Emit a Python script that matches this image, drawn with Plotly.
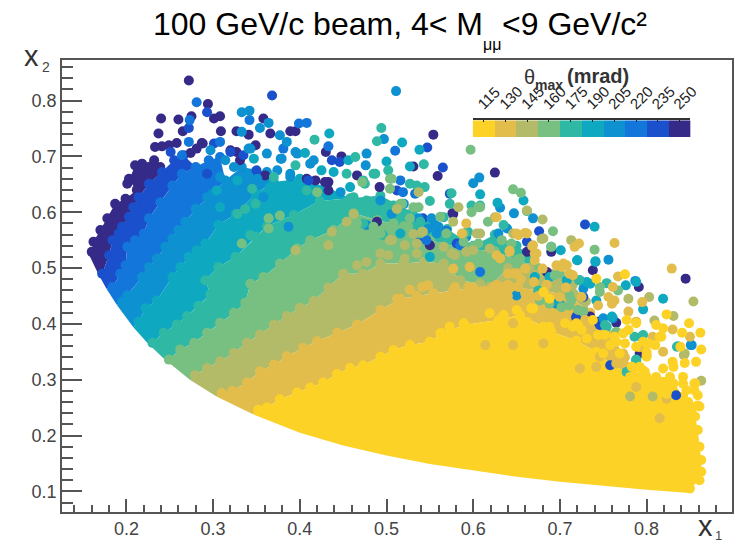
import plotly.graph_objects as go

# ---------- data ----------
thetas = [115, 130, 145, 160, 175, 190, 205, 220, 235, 250]
colors = ["#FDD226", "#E2BD4B", "#B3BB68", "#78BF82", "#2FB8A4", "#0EA9C0", "#0D91D0", "#1376DA", "#1A50CC", "#352A87"]
x_ticks = [0.2, 0.3, 0.4, 0.5, 0.6, 0.7, 0.8]
y_ticks = [0.1, 0.2, 0.3, 0.4, 0.5, 0.6, 0.7, 0.8]

# lower kinematic edge of the populated region; one knot where each band meets it, dark to light
curve_x = [.155,.168,.177,.189,.208,.224,.243,.274,.304,.346,.4,.45,.5,.55,.6,.65,.7,.75,.8,.85]
curve_y = [.53,.488,.463,.434,.394,.366,.338,.299,.27,.238,.205,.182,.164,.149,.137,.126,.117,.11,.103,.097]

# outermost points of each theta band (upper-left edge of the band)
edge_250 = [(.160,.529),(.162,.547),(.170,.568),(.178,.589),(.187,.615),(.199,.624),(.212,.640),(.203,.657),(.210,.684),(.218,.687),(.232,.693),(.239,.681)]
edge_235 = [(.172,.490),(.180,.523),(.184,.550),(.191,.562),(.195,.574),(.203,.592),(.208,.609),(.214,.627),(.226,.651),(.241,.672),(.255,.693),(.266,.702)]
edge_220 = [(.184,.466),(.193,.490),(.199,.505),(.201,.538),(.210,.550),(.220,.562),(.226,.589),(.239,.618),(.253,.648),(.264,.669),(.280,.681),(.295,.693),(.308,.699)]
edge_205 = [(.195,.440),(.201,.451),(.218,.484),(.226,.502),(.235,.517),(.245,.538),(.253,.553),(.260,.568),(.268,.583),(.280,.606),(.299,.633),(.314,.657),(.333,.681),(.362,.672)]
edge_190 = [(.214,.404),(.222,.428),(.235,.442),(.253,.484),(.262,.502),(.272,.520),(.281,.532),(.291,.544),(.306,.577),(.326,.597),(.349,.633),(.370,.654),(.400,.660),(.431,.645)]
edge_175 = [(.230,.366),(.243,.384),(.258,.399),(.270,.414),(.283,.432),(.297,.453),(.291,.478),(.306,.502),(.326,.520),(.349,.556),(.362,.575),(.393,.595),(.423,.620),(.458,.625),(.493,.630),(.530,.600),(.570,.570),(.600,.540),(.625,.560),(.650,.540),(.670,.520)]
edge_160 = [(.249,.336),(.262,.354),(.278,.366),(.293,.384),(.308,.402),(.324,.420),(.337,.438),(.343,.472),(.358,.484),(.377,.508),(.397,.535),(.412,.550),(.439,.568),(.462,.598),(.489,.586),(.520,.575),(.550,.550),(.590,.535),(.625,.530),(.650,.515),(.675,.500),(.700,.490)]
edge_145 = [(.279,.308),(.293,.321),(.308,.333),(.324,.348),(.339,.366),(.354,.381),(.370,.399),(.385,.414),(.400,.429),(.416,.441),(.433,.465),(.450,.490),(.473,.490),(.493,.508),(.519,.508),(.543,.511),(.566,.508),(.585,.478),(.608,.472),(.619,.466),(.640,.500),(.665,.500),(.690,.490),(.715,.470),(.730,.440)]
edge_130 = [(.310,.276),(.322,.280),(.339,.295),(.354,.315),(.370,.327),(.385,.342),(.404,.357),(.420,.369),(.443,.384),(.466,.399),(.493,.425),(.516,.445),(.535,.450),(.554,.455),(.577,.460),(.600,.465),(.627,.470),(.646,.465),(.681,.460),(.711,.450),(.735,.420),(.760,.380),(.775,.340)]
edge_115 = [(.352,.246),(.362,.250),(.377,.265),(.397,.277),(.412,.286),(.427,.295),(.443,.310),(.458,.321),(.473,.326),(.493,.341),(.508,.353),(.527,.362),(.550,.368),(.564,.383),(.590,.398),(.629,.407),(.654,.416),(.681,.395),(.690,.386),(.719,.370),(.742,.350),(.761,.325),(.792,.305),(.827,.305),(.842,.270),(.859,.254),(.856,.234),(.859,.210),(.861,.180),(.863,.156),(.863,.135),(.861,.120),(.850,.105)]

# individually visible events in the sparse fringe
dots_250 = [(.272,.836),(.294,.794),(.240,.768),(.260,.766),(.275,.772),(.301,.768),(.308,.772),(.265,.745),(.237,.741),(.309,.745),(.358,.768),(.327,.745),(.341,.739),(.366,.741),(.389,.745),(.395,.745),(.430,.708),(.448,.700),(.349,.720),(.327,.708),(.287,.724),(.281,.714),(.274,.706),(.258,.724),(.249,.720),(.241,.718),(.233,.717),(.331,.693),(.466,.666),(.433,.654),(.201,.651),(.203,.660),(.554,.739),(.559,.665),(.625,.671),(.531,.682),(.492,.645),(.489,.583),(.738,.496),(.845,.481),(.791,.466),(.685,.493),(.690,.529),(.576,.598),(.792,.347),(.765,.402),(.719,.411),(.735,.413),(.744,.404),
            (.288,.723),(.320,.711),(.429,.654),(.408,.660),(.433,.639),(.418,.657),(.360,.666),(.550,.541),(.577,.597),(.662,.529)]
dots_235 = [(.293,.779),(.368,.809),(.272,.751),(.320,.708),(.301,.723),(.251,.708),(.335,.702),(.437,.693),(.446,.690),(.350,.675),(.410,.657),(.547,.716),(.565,.680),(.676,.566),(.729,.578),(.662,.547),(.581,.544),(.512,.639),(.573,.633),(.539,.556),(.834,.272),(.727,.448),(.758,.326),
            (.293,.669),(.542,.589),(.719,.413),(.746,.398)]
dots_220 = [(.281,.797),(.273,.765),(.342,.765),(.399,.759),(.408,.760),(.381,.714),(.433,.718),(.308,.726),(.272,.726),(.264,.702),(.510,.710),(.569,.567),(.546,.550),
            (.519,.636),(.533,.633),(.585,.541),(.608,.493),(.516,.657)]
dots_205 = [(.333,.779),(.342,.782),(.364,.760),(.354,.751),(.333,.744),(.377,.738),(.385,.726),(.395,.708),(.362,.705),(.379,.696),(.341,.714),(.297,.711),(.314,.693),(.412,.687),(.477,.705),(.476,.684),(.389,.669),(.511,.817),(.497,.731),(.607,.662),(.600,.652),(.631,.608),(.647,.598),(.669,.589),(.756,.515),(.787,.477),(.560,.574),(.592,.556),(.520,.615),(.761,.410),(.750,.410),(.696,.436),(.650,.451),(.851,.362),
            (.343,.714),(.324,.681),(.308,.663),(.351,.660),(.378,.696),(.374,.675),(.397,.705),(.416,.693),(.389,.663),(.320,.636),(.293,.627),(.358,.627),(.387,.574),(.447,.636),(.558,.562),(.548,.571),(.556,.577),(.629,.562),(.639,.571),(.477,.577),(.506,.597),(.493,.621),(.537,.589),(.552,.589),(.727,.463),(.720,.514),(.741,.511),(.852,.362)]
dots_190 = [(.434,.741),(.406,.706),(.347,.696),(.456,.693),(.425,.675),(.439,.672),(.458,.645),(.518,.725),(.538,.712),(.527,.682),(.500,.691),(.608,.632),(.658,.621),(.628,.617),(.740,.574),(.701,.532),(.720,.514),(.741,.512),(.776,.469),(.731,.475),(.819,.445),(.796,.426),(.788,.335),
            (.366,.645),(.328,.657),(.304,.639),(.308,.609),(.389,.621),(.374,.621),(.537,.562),(.550,.520),(.516,.562),(.723,.478),(.735,.472),(.788,.475),(.760,.413),(.742,.442),(.700,.436),(.671,.484),(.688,.484),(.708,.478)]
dots_175 = [(.417,.730),(.395,.684),(.464,.699),(.454,.669),(.370,.663),(.473,.657),(.494,.751),(.489,.727),(.543,.686),(.535,.648),(.544,.645),(.575,.634),(.598,.612),(.662,.602),(.690,.538),(.754,.473),(.722,.478),(.550,.620),(.539,.583),(.635,.577),(.487,.669),(.786,.377),(.794,.377),(.754,.395),(.835,.359),(.777,.314),
            (.345,.642),(.337,.606),(.349,.615),(.328,.597),(.408,.639),(.443,.612),(.424,.606),(.400,.591),(.462,.627),(.343,.559),(.485,.669),(.475,.651),(.502,.675),(.527,.651),(.477,.621),(.487,.603),(.508,.612),(.573,.615),(.566,.591),(.594,.565),(.608,.612),(.473,.580),(.496,.559),(.675,.460),(.752,.398),(.796,.380),(.788,.336),(.836,.360)]
dots_160 = [(.597,.712),(.646,.641),(.655,.635),(.692,.566),(.740,.533),(.694,.487),(.562,.592),(.608,.609),(.504,.660),(.516,.615),(.531,.609),(.589,.562),(.633,.550),(.654,.517),(.485,.574),(.746,.457),(.711,.433),(.727,.422),
            (.364,.589),(.377,.594),(.420,.636),(.466,.580),(.475,.556),(.445,.535),(.412,.547),(.333,.544),(.364,.571),(.472,.654),(.506,.660),(.504,.642),(.518,.615),(.537,.609),(.598,.600),(.606,.609),(.477,.556),(.493,.562),(.508,.580),(.527,.589),(.525,.574),(.539,.562),(.569,.562),(.589,.547),(.617,.583),(.644,.544),(.606,.544),(.600,.538),(.562,.538),
            (.690,.538),(.713,.442),(.746,.466),(.767,.460),(.711,.451),(.688,.436),(.721,.425),(.702,.430),(.677,.442),(.765,.386)]
dots_145 = [(.680,.587),(.679,.552),(.713,.550),(.583,.609),(.625,.591),(.504,.550),(.531,.561),(.577,.583),(.604,.562),(.542,.565),(.646,.562),(.854,.440),(.779,.445),(.803,.448),(.831,.414),(.809,.406),(.844,.347),(.863,.298),(.807,.270),(.781,.270),
            (.437,.565),(.454,.583),(.462,.597),(.433,.541),(.395,.532),(.466,.505),(.477,.511),(.537,.636),(.512,.606),(.662,.603),(.506,.550),(.541,.565),(.608,.562),(.521,.541),(.535,.544),(.493,.526),(.502,.523),(.521,.517),(.566,.538),(.600,.532),(.579,.523),(.535,.526),(.592,.529),(.619,.535),(.575,.526),(.681,.553),(.843,.344)]
dots_130 = [(.829,.499),(.767,.485),(.722,.544),(.717,.538),(.763,.545),(.711,.490),(.702,.502),(.708,.505),(.680,.499),(.660,.499),(.650,.490),(.640,.490),(.761,.466),(.650,.562),(.660,.563),(.668,.539),(.671,.526),(.642,.531),(.627,.591),(.592,.580),(.587,.562),(.795,.439),(.779,.422),(.763,.442),(.756,.448),(.744,.433),(.646,.401),(.830,.390),(.850,.377),(.807,.377),(.788,.404),(.800,.344),(.819,.350),(.729,.407),(.614,.362),(.646,.362),(.681,.365),(.723,.320),(.746,.341),(.788,.287),(.815,.231),(.823,.266),
            (.577,.499),(.596,.502),(.627,.523),(.642,.529),(.652,.559),(.662,.562),(.631,.517),(.646,.490),(.579,.466),(.594,.466),(.604,.451),(.623,.466),(.635,.466),(.652,.466),(.541,.466),(.527,.461),(.548,.469),(.512,.445),(.669,.541),(.673,.526),(.671,.514),(.696,.505),(.704,.508),(.715,.487),(.707,.465),(.725,.448),(.700,.448),(.760,.436),(.688,.416),(.704,.412),(.735,.389),(.754,.347),(.742,.323),(.765,.329),(.792,.358),(.773,.347),
            (.640,.470),(.655,.480),(.670,.475),(.685,.470),(.660,.455),(.675,.450),(.640,.450)]
dots_115 = [(.775,.489),(.742,.481),(.823,.417),(.849,.401),(.862,.384),(.841,.384),(.839,.359),(.863,.354),(.819,.392),(.817,.377),(.796,.368),(.779,.389),(.788,.359),(.811,.398),(.786,.320),(.796,.317),(.830,.332),(.844,.330),(.857,.332),(.856,.293),(.859,.272),(.848,.260),(.861,.252),(.681,.457),(.688,.445),(.650,.425),(.667,.428),(.635,.416),(.619,.419),(.662,.404),(.589,.401),(.573,.395),(.562,.383),(.596,.392),(.719,.401),
            (.706,.401),(.738,.407),(.669,.427),(.721,.398),(.777,.407),(.788,.401),(.765,.368),(.773,.383),(.752,.380),(.800,.341),(.810,.362),(.783,.323),(.798,.314),(.819,.293),(.842,.293),(.855,.293),
            (.831,.323),(.842,.305),(.819,.320),(.811,.305),(.800,.305),(.831,.293),(.846,.281),(.855,.281),(.823,.275),(.792,.323),(.781,.305),(.769,.347),(.758,.362),(.750,.347),(.775,.365),(.731,.374),(.715,.395),(.688,.395),(.725,.389),(.744,.380),(.763,.377),(.800,.350),(.802,.365),(.815,.377)]

# ---------- layout geometry ----------
W, H = 741, 544
L, R, T, B = 61.5, 732.3, 59.7, 512.0
def px(v): return (v - L) / (R - L)
def py(v): return (B - v) / (B - T)
GREY = "#555555"
FONT = "Liberation Sans"

edges = [edge_250, edge_235, edge_220, edge_205, edge_190, edge_175, edge_160, edge_145, edge_130, edge_115]
dots = [dots_250, dots_235, dots_220, dots_205, dots_190, dots_175, dots_160, dots_145, dots_130, dots_115]
dark_first = colors[::-1]
SIZE = 10

fig = go.Figure()
n = len(edges)
for k in range(n):
    poly = list(edges[k])
    if k < n - 1:
        keep = []
        for p in edges[k + 1]:
            keep.append(p)
            if p[0] > edges[k][-1][0]:
                break
        poly += keep[::-1]
        poly += [(curve_x[k + 1], curve_y[k + 1]), (curve_x[k], curve_y[k])]
    else:
        poly += list(zip(curve_x[k:], curve_y[k:]))[::-1]
    fig.add_trace(go.Scatter(x=[p[0] for p in poly], y=[p[1] for p in poly], mode="lines", fill="toself",
                             fillcolor=dark_first[k], line=dict(width=0),
                             hoverinfo="skip", showlegend=False))
    fig.add_trace(go.Scatter(x=[p[0] for p in edges[k]], y=[p[1] for p in edges[k]], mode="markers",
                             marker=dict(size=SIZE, color=dark_first[k], line=dict(width=0)),
                             hoverinfo="skip", showlegend=False))
for k in range(n):
    fig.add_trace(go.Scatter(x=[p[0] for p in dots[k]], y=[p[1] for p in dots[k]], mode="markers",
                             marker=dict(size=SIZE, color=dark_first[k], line=dict(width=0)),
                             hoverinfo="skip", showlegend=False))

# colour key, as a one-row heatmap on its own axes
scale = [[i / (len(colors) - 1), c] for i, c in enumerate(colors)]
fig.add_trace(go.Heatmap(x=thetas, y=[0], z=[thetas], zmin=thetas[0], zmax=thetas[-1],
                         colorscale=scale, showscale=False, xgap=0, hoverinfo="skip",
                         xaxis="x2", yaxis="y2"))

axis_common = dict(showgrid=False, zeroline=False, showline=True, linecolor=GREY, linewidth=1.5,
                   mirror=True, ticks="inside", tickcolor=GREY, tickwidth=1.5,
                   tickfont=dict(family=FONT, size=18, color="#444444"))
fig.update_layout(
    width=W, height=H, autosize=False,
    margin=dict(l=L, r=W - R, t=T, b=H - B, pad=0, autoexpand=False),
    paper_bgcolor="white", plot_bgcolor="white", showlegend=False,
    xaxis=dict(range=[0.1257, 0.8985], tickvals=x_ticks, ticktext=[str(v) for v in x_ticks], ticklen=13,
               minor=dict(dtick=0.02, ticklen=7, ticks="inside", tickcolor=GREY, tickwidth=1.5, showgrid=False),
               **axis_common),
    yaxis=dict(range=[0.063, 0.8727], tickvals=y_ticks, ticktext=[str(v) for v in y_ticks], ticklen=20,
               minor=dict(dtick=0.02, ticklen=11, ticks="inside", tickcolor=GREY, tickwidth=1.5, showgrid=False),
               **axis_common),
    xaxis2=dict(domain=[px(472.7), px(690.7)], anchor="y2", side="top", range=[107.5, 257.5],
                tickvals=thetas, ticktext=[str(v) for v in thetas], tickangle=-45, ticklabelshift=-5,
                ticks="inside", ticklen=2, tickcolor="#222222", showline=True, linecolor="#333333", linewidth=1.5,
                showgrid=False, zeroline=False, tickfont=dict(family=FONT, size=15, color="#222222")),
    yaxis2=dict(domain=[py(136.7), py(120)], anchor="x2", range=[-0.5, 0.5], showticklabels=False,
                ticks="", showgrid=False, zeroline=False, showline=False),
)

def note(text, x, y, size, color="#000000", bold=False):
    t = "<b>%s</b>" % text if bold else text
    fig.add_annotation(text=t, xref="paper", yref="paper", x=px(x), y=py(y), showarrow=False,
                       xanchor="center", yanchor="middle", borderpad=0,
                       font=dict(family=FONT, size=size, color=color))

fig.add_annotation(text="100 GeV/c beam, 4&lt; M", xref="paper", yref="paper", x=px(151.5), y=py(24),
                   xanchor="left", yanchor="middle", showarrow=False, borderpad=0,
                   font=dict(family=FONT, size=32, color="#000000"))
note("μμ", 492, 44, 16)
fig.add_annotation(text="&lt;9 GeV/c²", xref="paper", yref="paper", x=px(501), y=py(24),
                   xanchor="left", yanchor="middle", showarrow=False, borderpad=0,
                   font=dict(family=FONT, size=32, color="#000000"))
note("θ", 530, 77, 20, "#333333")
note("max", 549, 85, 14, "#333333", bold=True)
note("(mrad)", 598, 76, 20, "#333333", bold=True)
note("x", 31, 56, 29, "#333333")
note("2", 45, 67, 14, "#444444")
note("x", 706, 526, 29, "#333333")
note("1", 719, 536, 13, "#444444")

# the page's default body margin would push the figure past the window
fig.write_html("out.html", config={"displayModeBar": False},
               post_script="document.body.style.margin='0';document.documentElement.style.overflow='hidden';")
